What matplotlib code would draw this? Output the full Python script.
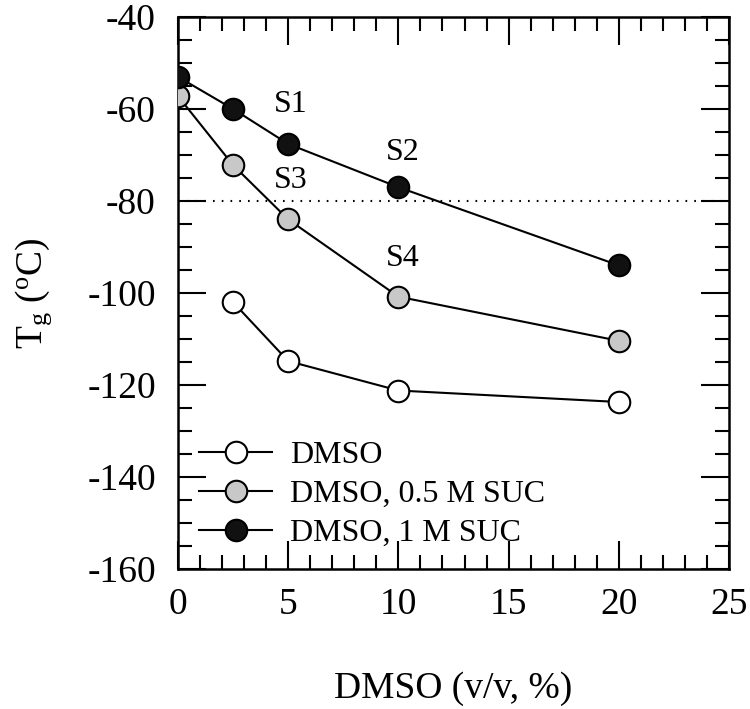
import matplotlib
matplotlib.use("Agg")
import matplotlib.pyplot as plt
from matplotlib.ticker import MultipleLocator

plt.rcParams['font.family'] = ['Liberation Serif', 'DejaVu Serif']
plt.rcParams['mathtext.fontset'] = 'custom'
plt.rcParams['mathtext.rm'] = 'Liberation Serif'
plt.rcParams['mathtext.it'] = 'Liberation Serif'
plt.rcParams['axes.unicode_minus'] = False

# data
dmso_x = [2.5, 5, 10, 20]
dmso_tg = [-102, -114.8, -121.2, -123.7]

suc05_x = [0, 2.5, 5, 10, 20]
suc05_tg = [-57.2, -72.2, -84, -100.8, -110.4]

suc1_x = [0, 2.5, 5, 10, 20]
suc1_tg = [-53, -60, -67.6, -77, -94]

labels = ["DMSO", "DMSO, 0.5 M SUC", "DMSO, 1 M SUC"]
sample_names = ["S1", "S2", "S3", "S4"]
sample_x = [5.1, 10.2, 5.1, 10.2]
sample_y = [-59, -69.5, -75.5, -92.5]

fig = plt.figure(figsize=(7.5, 7.09), dpi=100)
ax = fig.add_axes([0.2373, 0.1975, 0.7347, 0.7785])

ax.axhline(-80, color='black', linestyle=(0, (0.8, 3.4)), linewidth=1.5, zorder=1)

kw = dict(color='black', linewidth=1.5, markersize=15.5, markeredgecolor='black',
          markeredgewidth=1.5, marker='o', zorder=3)
ax.plot(dmso_x, dmso_tg, markerfacecolor='white', label=labels[0], **kw)
ax.plot(suc05_x, suc05_tg, markerfacecolor='#c8c8c8', label=labels[1], **kw)
ax.plot(suc1_x, suc1_tg, markerfacecolor='#111111', label=labels[2], **kw)

for name, x, y in zip(sample_names, sample_x, sample_y):
    ax.text(x, y, name, fontsize=23, ha='center', va='center')

ax.set_xlim(0, 25)
ax.set_ylim(-160, -40)
ax.xaxis.set_major_locator(MultipleLocator(5))
ax.xaxis.set_minor_locator(MultipleLocator(1))
ax.yaxis.set_major_locator(MultipleLocator(20))
ax.yaxis.set_minor_locator(MultipleLocator(5))

ax.tick_params(which='both', direction='in', top=True, right=True, width=1.5)
ax.tick_params(which='major', length=20)
ax.tick_params(which='minor', length=10)
ax.tick_params(axis='x', which='major', labelsize=27, pad=13)
ax.tick_params(axis='y', which='major', labelsize=27, pad=16)
for sp in ax.spines.values():
    sp.set_linewidth(1.8)

ax.set_xlabel("DMSO (v/v, %)", fontsize=27, labelpad=36)
ax.set_ylabel("T$_\\mathrm{g}$ ($^\\mathrm{o}$C)", fontsize=27, labelpad=24)

leg = ax.legend(loc='lower left', fontsize=23, frameon=False, handlelength=2.3,
                handletextpad=0.55, labelspacing=0.3, borderaxespad=0.0,
                bbox_to_anchor=(0.015, 0.015))

fig.savefig("out.png", dpi=100)
